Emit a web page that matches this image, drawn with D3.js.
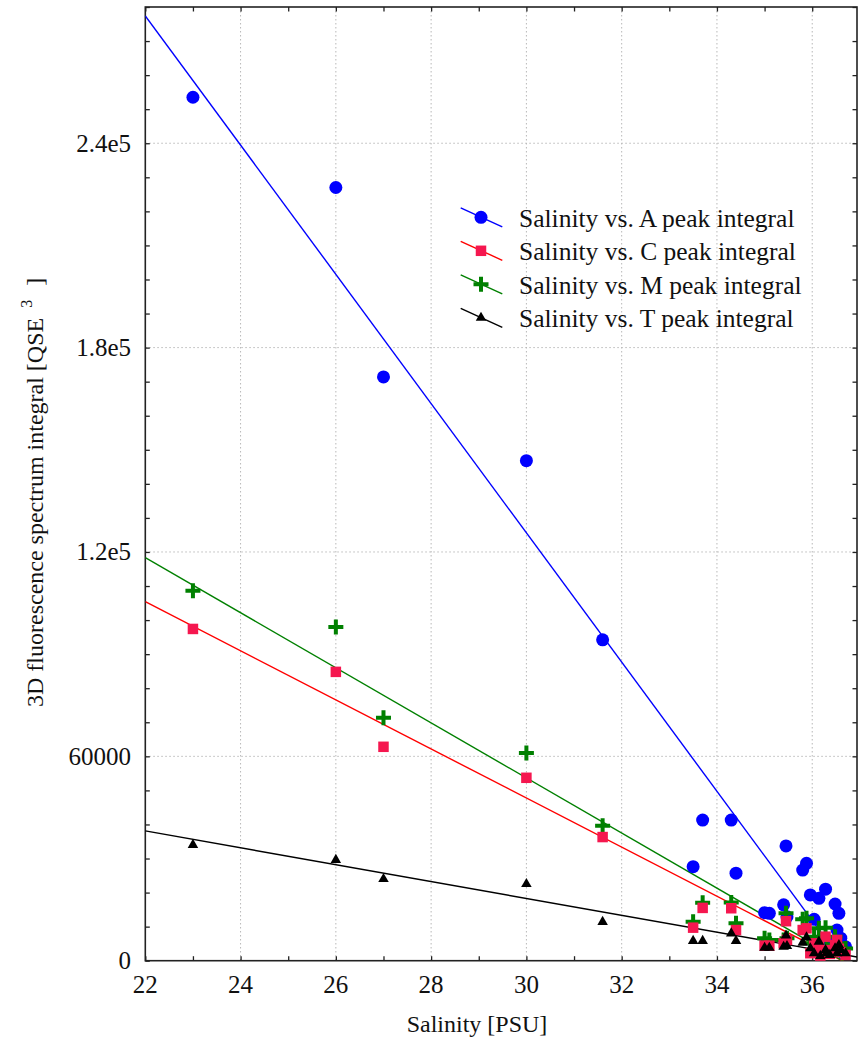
<!DOCTYPE html>
<html>
<head>
<meta charset="utf-8">
<script src="https://cdn.jsdelivr.net/npm/d3@7"></script>
</head>
<body style="margin:0">
<svg id="chart" width="861" height="1042"></svg>
<script>
// Sample salinities (PSU) and the four fluorescence peak integrals measured at each
const salinity = [23.0, 26.0, 27.0, 30.0, 31.6, 33.5, 33.7, 34.3, 34.4, 35.0, 35.1, 35.4, 35.45, 35.47,
  35.8, 35.88, 35.96, 36.04, 36.14, 36.17, 36.28, 36.3, 36.37, 36.48, 36.52, 36.56, 36.6, 36.7];
const peakA = [253500, 227000, 171400, 146800, 94200, 27600, 41300, 41300, 25700, 14100, 13900, 16400, 33700, 12900,
  26600, 28600, 19300, 12150, 18300, 3600, 21000, 3000, 5000, 16650, 9000, 13900, 6600, 4100];
const peakC = [97400, 84800, 62800, 53700, 36300, 9700, 15500, 15400, 9000, 4400, 4400, 5100, 11600, 6100,
  9000, 9500, 2200, 5100, 4100, 1500, 7050, 3100, 2000, 4600, 6100, 3500, 2500, 1700];
const peakM = [108600, 98000, 71300, 61000, 39600, 11400, 17000, 17100, 11000, 6600, 6100, 6100, 13900, 6600,
  12150, 12450, 5100, 7000, 9500, 3000, 9700, 4000, 3000, 7050, 5000, 4500, 3500, 3600];
const peakT = [34000, 29600, 24000, 22500, 11400, 5800, 5800, 8000, 5800, 3800, 3800, 4100, 7400, 4300,
  5300, 6850, 3650, 2200, 5600, 1400, 3150, 2200, 1700, 3650, 2200, 4600, 3150, 2200];

// Linear fits: fitted value at each end of the salinity axis
const fitX = [22, 36.94];
const fitA = [277400, -6040];
const fitC = [105400, -2240];
const fitM = [118350, -2470];
const fitT = [38100, 1090];

// Axis ticks
const xMajorTicks = [22, 24, 26, 28, 30, 32, 34, 36];
const xMinorTicks = d3.range(22, 37, 1);
const yMajorTicks = [0, 60000, 120000, 180000, 240000];
const yTickLabels = ["0", "60000", "1.2e5", "1.8e5", "2.4e5"];
const yMinorTicks = d3.range(0, 280001, 10000);

const seriesNames = ["Salinity vs. A peak integral", "Salinity vs. C peak integral",
  "Salinity vs. M peak integral", "Salinity vs. T peak integral"];

const svg = d3.select("#chart");
const L = 145.3, R = 857, T = 7, B = 960.7;

const x = d3.scaleLinear().domain([22, 36.94]).range([L, R]);
const y = d3.scaleLinear().domain([0, 280000]).range([B, T]);

// every label goes in Times-style serif type
const label = (sel, size) => sel
  .style("font-family", "\"Times New Roman\"")
  .style("font-size", size + "px")
  .style("fill", "#111");

// clip region for fitted lines
svg.append("defs").append("clipPath").attr("id", "plotClip")
  .append("rect").attr("x", L).attr("y", T).attr("width", R - L).attr("height", B - T);

// dotted grid
const grid = svg.append("g").attr("stroke", "#b8b8b8").attr("stroke-width", 1)
  .attr("stroke-dasharray", "1.5,2.5");
grid.selectAll("line.gx").data(xMajorTicks.filter(d => d > 22)).enter().append("line")
  .attr("x1", d => x(d)).attr("x2", d => x(d)).attr("y1", T).attr("y2", B);
grid.selectAll("line.gy").data(yMajorTicks.filter(d => d > 0)).enter().append("line")
  .attr("y1", d => y(d)).attr("y2", d => y(d)).attr("x1", L).attr("x2", R);

// axes with inward ticks on all four sides
const tickLen = 4.5;
const axisStyle = g => {
  g.select(".domain").remove();
  g.selectAll(".tick line").attr("stroke", "#222").attr("stroke-width", 1.3);
};
svg.append("g").attr("transform", `translate(0,${B})`)
  .call(d3.axisBottom(x).tickValues(xMinorTicks).tickSize(-tickLen).tickFormat(""))
  .call(axisStyle);
svg.append("g").attr("transform", `translate(0,${T})`)
  .call(d3.axisTop(x).tickValues(xMinorTicks).tickSize(-tickLen).tickFormat(""))
  .call(axisStyle);
svg.append("g").attr("transform", `translate(${L},0)`)
  .call(d3.axisLeft(y).tickValues(yMinorTicks).tickSize(-tickLen).tickFormat(""))
  .call(axisStyle);
svg.append("g").attr("transform", `translate(${R},0)`)
  .call(d3.axisRight(y).tickValues(yMinorTicks).tickSize(-tickLen).tickFormat(""))
  .call(axisStyle);

// frame
svg.append("rect").attr("x", L).attr("y", T).attr("width", R - L).attr("height", B - T)
  .attr("fill", "none").attr("stroke", "#222").attr("stroke-width", 1.6);

// tick labels
svg.selectAll("text.xt").data(xMajorTicks).enter().append("text")
  .attr("x", d => x(d)).attr("y", 993).attr("text-anchor", "middle")
  .call(label, 25).text(d => d);
svg.selectAll("text.yt").data(yMajorTicks).enter().append("text")
  .attr("x", 131).attr("y", d => y(d) + 8.5).attr("text-anchor", "end")
  .call(label, 25).text((d, i) => yTickLabels[i]);

// axis titles
svg.append("text").attr("x", 477).attr("y", 1032).attr("text-anchor", "middle")
  .call(label, 24).text("Salinity [PSU]");

const yTitle = svg.append("text").attr("transform", "translate(43,707) rotate(-90)").call(label, 24);
yTitle.append("tspan").text("3D fluorescence spectrum integral [QSE");
yTitle.append("tspan").attr("dx", 10).attr("dy", -11).style("font-size", "16px").text("3");
yTitle.append("tspan").attr("dx", 14).attr("dy", 11).text("]");

// fitted lines
const fitLine = d3.line().x(d => x(d[0])).y(d => y(d[1]));
const lines = svg.append("g").attr("clip-path", "url(#plotClip)").attr("fill", "none").attr("stroke-width", 1.4);
[[fitA, "#0000ff"], [fitC, "#ff0000"], [fitM, "#008000"], [fitT, "#000000"]].forEach(([fit, col]) => {
  lines.append("path").attr("d", fitLine(fitX.map((v, i) => [v, fit[i]]))).attr("stroke", col);
});

// marker shapes
const circleSym = d3.symbol().type(d3.symbolCircle).size(Math.PI * 6.5 * 6.5)();
const squareSym = d3.symbol().type(d3.symbolSquare).size(10.5 * 10.5)();
const triSym = d3.symbol().type(d3.symbolTriangle).size(48)();
const plusPath = "M-7.5,-2H-2V-7.5H2V-2H7.5V2H2V7.5H-2V2H-7.5Z";

const markers = [
  { vals: peakA, path: circleSym, fill: "#0000ff" },
  { vals: peakM, path: plusPath, fill: "#008000" },
  { vals: peakC, path: squareSym, fill: "#f5174f" },
  { vals: peakT, path: triSym, fill: "#000000" }
];
markers.forEach(m => {
  svg.append("g").selectAll("path").data(m.vals).enter().append("path")
    .attr("d", m.path).attr("fill", m.fill)
    .attr("transform", (d, i) => `translate(${x(salinity[i])},${y(d)})`);
});

// legend
const legendRows = [
  { name: seriesNames[0], color: "#0000ff", path: circleSym, fill: "#0000ff" },
  { name: seriesNames[1], color: "#ff0000", path: squareSym, fill: "#f5174f" },
  { name: seriesNames[2], color: "#008000", path: plusPath, fill: "#008000" },
  { name: seriesNames[3], color: "#000000", path: triSym, fill: "#000000" }
];
legendRows.forEach((r, i) => {
  const cy = 217.3 + i * 33.5;
  svg.append("line").attr("x1", 460.7).attr("x2", 502.3).attr("y1", cy - 9.5).attr("y2", cy + 9.5)
    .attr("stroke", r.color).attr("stroke-width", 1.4);
  svg.append("path").attr("d", r.path).attr("fill", r.fill).attr("transform", `translate(481,${cy})`);
  svg.append("text").attr("x", 519).attr("y", cy + 9.5).call(label, 25.5).text(r.name);
});
</script>
</body>
</html>
